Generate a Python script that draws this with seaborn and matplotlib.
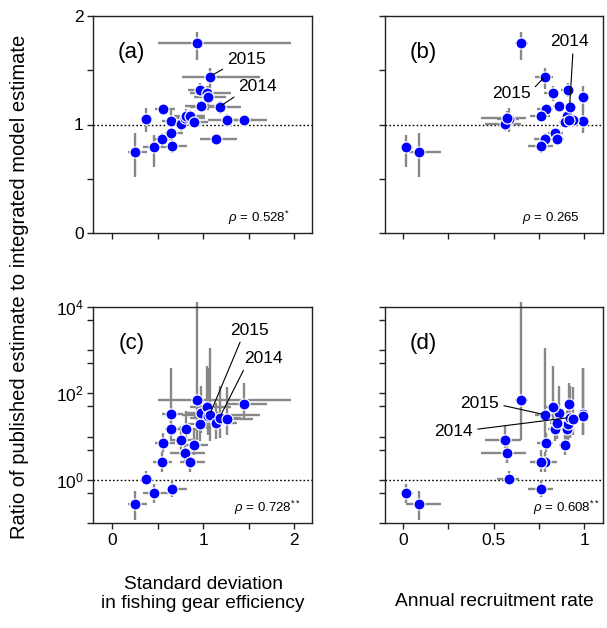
import numpy as np
import pandas as pd
import matplotlib
matplotlib.use("Agg")
import matplotlib.pyplot as plt
import seaborn as sns
from matplotlib.ticker import FixedLocator, FixedFormatter, NullLocator

sns.set_style("ticks")
plt.rcParams['font.family'] = ['Liberation Sans', 'DejaVu Sans']
plt.rcParams['mathtext.fontset'] = 'custom'
plt.rcParams['mathtext.rm'] = 'Liberation Sans'
plt.rcParams['mathtext.it'] = 'Liberation Sans:italic'
plt.rcParams['text.color'] = 'black'
plt.rcParams['axes.labelcolor'] = 'black'
plt.rcParams['xtick.color'] = 'black'
plt.rcParams['ytick.color'] = 'black'

# ---- data ----
year_label = ['', '', '', '', '', '', '', '', '', '', '', '', '', '', '', '', '', '', '2015', '', '2014', '', '']
sd_gear = [0.246, 0.375, 0.456, 0.544, 0.559, 0.640, 0.647, 0.658, 0.757, 0.800, 0.810, 0.853, 0.900,
           0.934, 0.963, 0.980, 1.037, 1.048, 1.070, 1.140, 1.180, 1.265, 1.445]
sd_gear_lo = [0.17, 0.32, 0.34, 0.45, 0.47, 0.55, 0.58, 0.60, 0.66, 0.63, 0.68, 0.74, 0.78,
              0.50, 0.83, 0.80, 0.85, 0.90, 0.77, 0.96, 0.85, 1.05, 1.26]
sd_gear_hi = [0.38, 0.43, 0.63, 0.66, 0.69, 0.78, 0.78, 0.82, 0.92, 1.02, 1.00, 1.02, 1.05,
              1.97, 1.09, 1.20, 1.30, 1.25, 1.62, 1.37, 1.42, 1.55, 1.70]
recruit = [0.088, 0.584, 0.018, 0.783, 0.788, 0.994, 0.840, 0.761, 0.562, 0.575, 0.906, 0.759, 0.893,
           0.648, 0.908, 0.862, 0.825, 0.991, 0.783, 0.851, 0.919, 0.939, 0.917]
recruit_lo = [0.018, 0.52, 0.000, 0.72, 0.74, 0.97, 0.80, 0.69, 0.45, 0.43, 0.88, 0.70, 0.86,
              0.62, 0.87, 0.83, 0.78, 0.97, 0.73, 0.81, 0.89, 0.91, 0.89]
recruit_hi = [0.208, 0.64, 0.055, 0.85, 0.83, 1.02, 0.88, 0.83, 0.65, 0.68, 0.93, 0.81, 0.92,
              0.69, 0.94, 0.89, 0.86, 1.01, 0.83, 0.89, 0.95, 0.97, 0.95]
ratio_top = [0.75, 1.053, 0.79, 0.864, 1.14, 1.03, 0.919, 0.806, 1.004, 1.06, 1.08, 1.078, 1.023,
             1.752, 1.32, 1.173, 1.286, 1.25, 1.44, 0.864, 1.164, 1.04, 1.04]
ratio_top_lo = [0.52, 0.93, 0.61, 0.80, 1.10, 0.92, 0.86, 0.74, 0.94, 1.00, 1.02, 1.03, 0.97,
                1.59, 1.25, 1.12, 1.22, 1.13, 1.33, 0.82, 1.10, 0.98, 1.00]
ratio_top_hi = [0.92, 1.15, 0.90, 0.92, 1.18, 1.14, 0.97, 0.87, 1.06, 1.12, 1.14, 1.13, 1.08,
                1.85, 1.38, 1.22, 1.35, 1.35, 1.52, 0.91, 1.22, 1.10, 1.08]
ratio_bot = [0.276, 1.07, 0.50, 2.64, 7.0, 34, 15, 0.62, 8.2, 4.25, 15.4, 2.6, 6.3,
             69, 19.7, 35, 48, 30, 32, 20.5, 27.6, 26, 57]
ratio_bot_lo = [0.12, 0.75, 0.30, 1.5, 4.5, 11, 8, 0.40, 5, 2.5, 8, 1.5, 3.7,
                8.2, 8, 12, 15, 10.7, 8, 9, 9.3, 11, 25]
ratio_bot_hi = [0.55, 1.6, 0.80, 4.5, 12, 380, 30, 1.0, 18, 8, 40, 5, 14,
                13000, 60, 150, 420, 380, 1100, 60, 150, 140, 174]
rho_text = [r"$\mathit{\rho}$ = 0.528$^{*}$", r"$\mathit{\rho}$ = 0.265",
            r"$\mathit{\rho}$ = 0.728$^{**}$", r"$\mathit{\rho}$ = 0.608$^{**}$"]
panel_letters = ['(a)', '(b)', '(c)', '(d)']

df = pd.DataFrame(dict(label=year_label, x1=sd_gear, x1lo=sd_gear_lo, x1hi=sd_gear_hi,
                       x2=recruit, x2lo=recruit_lo, x2hi=recruit_hi,
                       y1=ratio_top, y1lo=ratio_top_lo, y1hi=ratio_top_hi,
                       y2=ratio_bot, y2lo=ratio_bot_lo, y2hi=ratio_bot_hi))

W, H = 607, 628
fig = plt.figure(figsize=(W / 100, H / 100), dpi=100)

def rect(l, r, t, b):
    return [l / W, 1 - b / H, (r - l) / W, (b - t) / H]

panels = [
    dict(rect=rect(93.3, 312.3, 15.7, 233.3), x='x1', y='y1', log=False, left=True, bottom=False,
         xlim=(-0.21, 2.2), rho_x=0.898,
         ann={'2015': ((1.476, 1.60), (0, 0)), '2014': ((1.60, 1.347), (0, 0))}),
    dict(rect=rect(385, 603.3, 15.7, 233.3), x='x2', y='y1', log=False, left=False, bottom=False,
         xlim=(-0.1, 1.105), rho_x=0.89,
         ann={'2015': ((0.599, 1.287), (1, 0.65)), '2014': ((0.917, 1.761), (0.6, 0))}),
    dict(rect=rect(93.3, 312.3, 306.7, 523.3), x='x1', y='y2', log=True, left=True, bottom=True,
         xlim=(-0.21, 2.2), rho_x=0.947,
         ann={'2015': ((1.512, 10 ** 3.46), (0.3, 0)), '2014': ((1.659, 10 ** 2.81), (0.05, 0))}),
    dict(rect=rect(385, 603.3, 306.7, 523.3), x='x2', y='y2', log=True, left=False, bottom=True,
         xlim=(-0.1, 1.105), rho_x=0.985,
         ann={'2015': ((0.424, 10 ** 1.756), (1, 0.45)), '2014': ((0.28, 10 ** 1.126), (1, 0.6))}),
]

spine_col = '#222222'
for i, p in enumerate(panels):
    ax = fig.add_axes(p['rect'])
    x, y = p['x'], p['y']
    ax.axhline(1, color='black', ls=(0, (1.2, 1.6)), lw=1.0, zorder=1)
    eb = ax.errorbar(df[x], df[y],
                     xerr=[df[x] - df[x + 'lo'], df[x + 'hi'] - df[x]],
                     yerr=[df[y] - df[y + 'lo'], df[y + 'hi'] - df[y]],
                     fmt='none', ecolor='#888888', elinewidth=1.7, capsize=0, zorder=2)
    for coll in eb.lines[2]:
        coll.set_clip_on(False)
    sns.scatterplot(data=df, x=x, y=y, ax=ax, color='#0000ff', edgecolor='white',
                    linewidth=0.9, s=64, zorder=3, legend=False, clip_on=False)
    if p['log']:
        ax.set_yscale('log')
        ax.set_ylim(0.1, 1e4)
        yt = [0.1, 0.5, 1, 5, 10, 50, 100, 500, 1000, 5000, 10000]
        ylab = ['', '', r'$10^0$', '', '', '', r'$10^2$', '', '', '', r'$10^4$']
        ax.yaxis.set_minor_locator(NullLocator())
    else:
        ax.set_ylim(0, 2)
        yt = [0, 0.5, 1, 1.5, 2]
        ylab = ['0', '', '1', '', '2']
    ax.yaxis.set_major_locator(FixedLocator(yt))
    ax.yaxis.set_major_formatter(FixedFormatter(ylab if p['left'] else [''] * len(yt)))
    ax.set_xlim(*p['xlim'])
    if x == 'x1':
        xt = [0, 0.5, 1, 1.5, 2]
        xlab = ['0', '', '1', '', '2']
    else:
        xt = [0, 0.25, 0.5, 0.75, 1]
        xlab = ['0', '', '0.5', '', '1']
    ax.xaxis.set_major_locator(FixedLocator(xt))
    ax.xaxis.set_major_formatter(FixedFormatter(xlab if p['bottom'] else [''] * len(xt)))
    ax.set_xlabel('')
    ax.set_ylabel('')
    ax.tick_params(direction='out', length=4, width=1, labelsize=12.5, color=spine_col,
                   labelcolor='black', pad=3)
    for s in ax.spines.values():
        s.set_color(spine_col)
        s.set_linewidth(1.0)
    ax.text(0.175, 0.83, panel_letters[i], transform=ax.transAxes, fontsize=16,
            ha='center', va='center', color='black')
    ax.text(p['rho_x'], 0.07, rho_text[i], transform=ax.transAxes, fontsize=9.5,
            ha='right', va='center', color='black')
    for _, row in df[df['label'] != ''].iterrows():
        (tx, ty), rp = p['ann'][row['label']]
        ax.annotate(row['label'], xy=(row[x], row[y]), xytext=(tx, ty), textcoords='data',
                    fontsize=12.5, ha='center', va='center', zorder=5, color='black',
                    arrowprops=dict(arrowstyle='-', color='black', lw=0.8,
                                    shrinkA=1, shrinkB=2, relpos=rp))

fig.text(203 / W, 1 - 594 / H, "Standard deviation\nin fishing gear efficiency",
         ha='center', va='center', fontsize=13.8, linespacing=1.15, color='black')
fig.text(494 / W, 1 - 601 / H, "Annual recruitment rate", ha='center', va='center',
         fontsize=13.8, color='black')
fig.text(20 / W, 1 - 287 / H, "Ratio of published estimate to integrated model estimate",
         ha='center', va='center', rotation=90, fontsize=14.5, color='black')

fig.savefig("out.png", dpi=100)
